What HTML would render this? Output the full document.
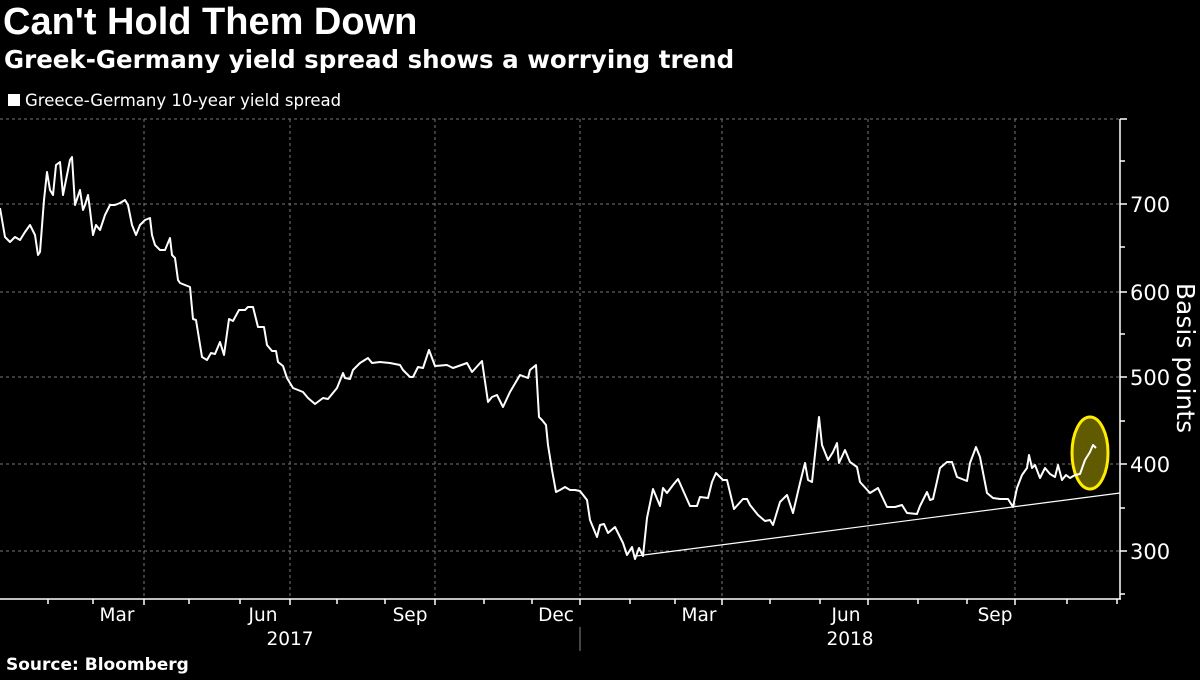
<!DOCTYPE html>
<html><head><meta charset="utf-8"><style>
body{margin:0;background:#000;width:1200px;height:675px;overflow:hidden;font-family:"Liberation Sans","DejaVu Sans",sans-serif;color:#fff}
</style></head><body>
<svg width="1200" height="675" viewBox="0 0 1200 675" xmlns="http://www.w3.org/2000/svg" font-family="DejaVu Sans, Liberation Sans, sans-serif">
<rect width="1200" height="675" fill="#000"/>
<text x="3" y="34" font-size="38" font-weight="bold" fill="#fff" font-family="Liberation Sans, sans-serif">Can't Hold Them Down</text>
<text x="4" y="68" font-size="24.5" font-weight="bold" fill="#fff" font-family="DejaVu Sans, sans-serif">Greek-Germany yield spread shows a worrying trend</text>
<rect x="8" y="94" width="12" height="12" fill="#fff"/>
<text x="25" y="106" font-size="16.5" fill="#fff">Greece-Germany 10-year yield spread</text>
<g stroke="#777" stroke-width="1" stroke-dasharray="3,3">
<line x1="0" y1="119" x2="1120" y2="119"/>
<line x1="0" y1="204" x2="1120" y2="204"/>
<line x1="0" y1="292" x2="1120" y2="292"/>
<line x1="0" y1="377" x2="1120" y2="377"/>
<line x1="0" y1="464" x2="1120" y2="464"/>
<line x1="0" y1="551" x2="1120" y2="551"/>
<line x1="144" y1="119" x2="144" y2="599"/>
<line x1="290" y1="119" x2="290" y2="599"/>
<line x1="435" y1="119" x2="435" y2="599"/>
<line x1="580" y1="119" x2="580" y2="599"/>
<line x1="722" y1="119" x2="722" y2="599"/>
<line x1="868" y1="119" x2="868" y2="599"/>
<line x1="1015" y1="119" x2="1015" y2="599"/>
</g>
<g stroke="#fff" stroke-width="1.5">
<line x1="0" y1="599" x2="1121" y2="599"/>
<line x1="1120" y1="119" x2="1120" y2="599"/>
<line x1="1120" y1="119" x2="1127" y2="119"/>
<line x1="1120" y1="161" x2="1125" y2="161"/>
<line x1="1120" y1="204" x2="1127" y2="204"/>
<line x1="1120" y1="247" x2="1125" y2="247"/>
<line x1="1120" y1="292" x2="1127" y2="292"/>
<line x1="1120" y1="334" x2="1125" y2="334"/>
<line x1="1120" y1="377" x2="1127" y2="377"/>
<line x1="1120" y1="421" x2="1125" y2="421"/>
<line x1="1120" y1="464" x2="1127" y2="464"/>
<line x1="1120" y1="508" x2="1125" y2="508"/>
<line x1="1120" y1="551" x2="1127" y2="551"/>
<line x1="1120" y1="594" x2="1125" y2="594"/>
<line x1="48" y1="599" x2="48" y2="604"/><line x1="93" y1="599" x2="93" y2="604"/>
<line x1="144" y1="599" x2="144" y2="605"/><line x1="189" y1="599" x2="189" y2="604"/><line x1="240" y1="599" x2="240" y2="604"/>
<line x1="290" y1="599" x2="290" y2="605"/><line x1="337" y1="599" x2="337" y2="604"/><line x1="385" y1="599" x2="385" y2="604"/>
<line x1="435" y1="599" x2="435" y2="605"/><line x1="484" y1="599" x2="484" y2="604"/><line x1="532" y1="599" x2="532" y2="604"/>
<line x1="580" y1="599" x2="580" y2="605"/><line x1="630" y1="599" x2="630" y2="604"/><line x1="675" y1="599" x2="675" y2="604"/>
<line x1="722" y1="599" x2="722" y2="605"/><line x1="770" y1="599" x2="770" y2="604"/><line x1="820" y1="599" x2="820" y2="604"/>
<line x1="868" y1="599" x2="868" y2="605"/><line x1="918" y1="599" x2="918" y2="604"/><line x1="967" y1="599" x2="967" y2="604"/>
<line x1="1015" y1="599" x2="1015" y2="605"/><line x1="1067" y1="599" x2="1067" y2="604"/><line x1="1117" y1="599" x2="1117" y2="604"/>
</g>
<line x1="580" y1="627" x2="580" y2="651" stroke="#888" stroke-width="1"/>
<g fill="#fff" font-size="21" text-anchor="start">
<text x="1130" y="212">700</text>
<text x="1130" y="300">600</text>
<text x="1130" y="385">500</text>
<text x="1130" y="472">400</text>
<text x="1130" y="559">300</text>
</g>
<text transform="translate(1177,358) rotate(90)" font-size="25" fill="#fff" text-anchor="middle">Basis points</text>
<g fill="#fff" font-size="18.5" text-anchor="middle">
<text x="117" y="621">Mar</text>
<text x="263" y="621">Jun</text>
<text x="410" y="621">Sep</text>
<text x="556" y="621">Dec</text>
<text x="699" y="621">Mar</text>
<text x="846" y="621">Jun</text>
<text x="995" y="621">Sep</text>
<text x="290" y="645">2017</text>
<text x="850" y="645">2018</text>
</g>
<text x="6" y="670" font-size="17" font-weight="bold" fill="#fff">Source: Bloomberg</text>
<line x1="636" y1="556" x2="1120" y2="493" stroke="#fff" stroke-width="1.2"/>
<ellipse cx="1090" cy="453" rx="18" ry="36" fill="#605a00" stroke="#ffec00" stroke-width="3"/>
<polyline fill="none" stroke="#fff" stroke-width="2" stroke-linejoin="round" points="0,208 5,237 10,242 15,237 20,240 25,232 30,225 35,235 38,255 40,252 44,200 47,172 50,190 53,195 56,165 60,162 63,195 65,185 70,160 72,157 75,205 80,190 83,210 85,205 88,195 90,210 93,235 96,225 100,230 105,215 110,205 115,205 120,203 125,200 128,205 132,225 136,235 140,225 145,220 150,218 152,235 155,245 160,250 165,250 170,238 172,255 175,258 178,280 180,283 190,287 193,319 196,320 202,357 207,360 211,353 215,354 220,342 224,355 229,319 233,321 239,310 245,310 248,307 253,307 258,327 264,327 267,345 272,351 276,351 278,362 283,366 287,378 293,388 298,390 303,392 308,398 315,404 323,398 328,399 337,388 343,373 345,378 350,379 353,370 360,363 368,358 372,363 380,362 390,363 400,365 403,370 410,377 413,377 418,367 423,368 429,350 435,366 447,365 453,368 467,363 472,372 482,361 488,402 492,397 497,395 503,407 510,392 520,375 528,378 530,370 536,365 539,417 542,420 546,425 548,445 552,470 556,492 560,490 565,487 570,490 575,490 580,491 587,500 590,520 597,537 600,525 604,524 608,533 615,527 623,543 627,555 632,547 635,559 639,548 643,556 647,518 653,489 660,506 663,488 667,493 673,485 678,479 682,488 690,506 697,506 700,497 708,498 712,482 716,473 723,480 727,480 734,509 743,499 747,499 750,505 758,515 765,521 770,520 773,525 780,502 787,495 793,513 800,483 805,463 808,480 812,482 819,417 822,445 828,460 833,452 837,443 839,463 845,450 850,462 857,467 860,482 870,493 878,488 887,507 895,507 902,505 907,513 917,514 920,506 927,492 930,500 933,499 940,468 947,462 952,462 957,477 967,481 970,463 976,447 980,457 987,493 993,498 1000,499 1008,499 1013,507 1017,488 1022,475 1027,468 1029,455 1032,468 1035,465 1040,478 1045,468 1050,474 1055,477 1058,465 1062,480 1066,475 1070,478 1075,475 1080,474 1085,460 1090,452 1093,445 1096,448"/>
</svg>
</body></html>
